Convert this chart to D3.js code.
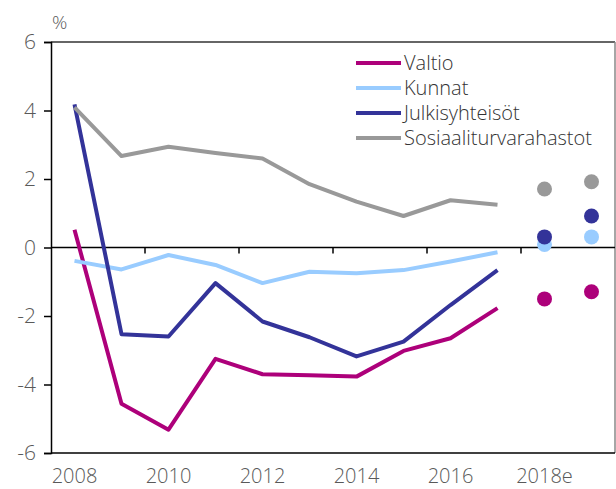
<!DOCTYPE html>
<html>
<head>
<meta charset="utf-8">
<script src="https://cdn.jsdelivr.net/npm/d3@7"></script>
<style>
  body { margin: 0; background: #fff; }
  svg { display: block; font-family: "Open Sans", sans-serif; font-weight: 300; }
</style>
</head>
<body>
<svg id="chart" width="616" height="489"></svg>
<script>
// ---------------------------------------------
//  Data
// ---------------------------------------------

const years = ["2008", "2009", "2010", "2011", "2012", "2013", "2014", "2015", "2016", "2017", "2018e", "2019e"];
const lineYears = years.slice(0, 10);
const estYears = ["2018e", "2019e"];
const tickLabels = ["2008", "2010", "2012", "2014", "2016", "2018e"];
const yTicks = [-6, -4, -2, 0, 2, 4, 6];

const seriesNames = ["Valtio", "Kunnat", "Julkisyhteisöt", "Sosiaaliturvarahastot"];
const valtio = [0.52, -4.56, -5.32, -3.25, -3.70, -3.73, -3.77, -3.02, -2.65, -1.77];
const kunnat = [-0.39, -0.64, -0.22, -0.51, -1.04, -0.71, -0.75, -0.66, -0.41, -0.14];
const julkis = [4.18, -2.53, -2.60, -1.04, -2.16, -2.62, -3.18, -2.75, -1.68, -0.66];
const sosiaali = [4.09, 2.67, 2.94, 2.76, 2.60, 1.85, 1.34, 0.92, 1.38, 1.25];

const valtioEst = [-1.50, -1.29];
const kunnatEst = [0.09, 0.31];
const julkisEst = [0.31, 0.92];
const sosiaaliEst = [1.71, 1.92];

const colors = ["#AD007A", "#99CCFF", "#333399", "#999999"];

// ---------------------------------------------
//  Chart
// ---------------------------------------------

const svg = d3.select("#chart");
const plotLeft = 51, plotRight = 615, plotTop = 42, plotBottom = 453;

const x = d3.scaleBand().domain(years).range([plotLeft, plotRight]);
const y = d3.scaleLinear().domain([-6, 6]).range([plotBottom, plotTop]);

const lines = [valtio, kunnat, julkis, sosiaali];
const ests = [valtioEst, kunnatEst, julkisEst, sosiaaliEst];

// frame
svg.append("line").attr("x1", plotLeft).attr("x2", plotRight).attr("y1", plotTop).attr("y2", plotTop)
  .attr("stroke", "#333").attr("stroke-width", 1.5);
svg.append("line").attr("x1", plotRight).attr("x2", plotRight).attr("y1", plotTop).attr("y2", plotBottom)
  .attr("stroke", "#888").attr("stroke-width", 1.5);
svg.append("line").attr("x1", plotLeft).attr("x2", plotRight).attr("y1", plotBottom).attr("y2", plotBottom)
  .attr("stroke", "#000").attr("stroke-width", 1.5);

// y axis
const yAxis = svg.append("g")
  .attr("transform", `translate(${plotLeft},0)`)
  .call(d3.axisLeft(y).tickValues(yTicks).tickSize(7).tickPadding(8).tickFormat(d => String(d)));
yAxis.select(".domain").attr("stroke", "#000").attr("stroke-width", 1.5);
yAxis.selectAll(".tick line").attr("stroke", "#000").attr("stroke-width", 1.5);
yAxis.selectAll(".tick text")
  .attr("fill", "#595959").style("font-size", "21px").style("font-family", "Open Sans").style("font-weight", 300);
svg.append("text").attr("x", 52).attr("y", 29).text("%")
  .attr("fill", "#595959").style("font-size", "19px");

// x axis at zero
const xAxisG = svg.append("g").attr("transform", `translate(0,${y(0)})`);
xAxisG.append("line").attr("x1", plotLeft).attr("x2", plotRight).attr("y1", 0).attr("y2", 0)
  .attr("stroke", "#000").attr("stroke-width", 1.5);
xAxisG.selectAll(".xtick")
  .data(years.filter((d, i) => i > 0 && i % 2 === 0))
  .enter().append("line")
  .attr("x1", d => x(d)).attr("x2", d => x(d))
  .attr("y1", 0).attr("y2", 6)
  .attr("stroke", "#000").attr("stroke-width", 1.5);

// x labels at bottom
svg.selectAll(".xlabel")
  .data(tickLabels)
  .enter().append("text")
  .attr("x", d => x(d) + x.bandwidth() / 2)
  .attr("y", 483)
  .attr("text-anchor", "middle")
  .attr("fill", "#595959")
  .style("font-size", "20px")
  .text(d => d);

// lines
const line = d3.line()
  .x((d, i) => x(lineYears[i]) + x.bandwidth() / 2)
  .y(d => y(d));

lines.forEach((vals, k) => {
  svg.append("path")
    .datum(vals)
    .attr("d", line)
    .attr("fill", "none")
    .attr("stroke", colors[k])
    .attr("stroke-width", 4)
    .attr("stroke-linejoin", "round");
});

// estimate dots
ests.forEach((vals, k) => {
  svg.selectAll(".dot" + k)
    .data(vals)
    .enter().append("circle")
    .attr("cx", (d, i) => x(estYears[i]) + x.bandwidth() / 2)
    .attr("cy", d => y(d))
    .attr("r", 7.5)
    .attr("fill", colors[k]);
});

// legend
const legend = svg.append("g");
seriesNames.forEach((name, k) => {
  const ly = 63 + k * 25;
  legend.append("line").attr("x1", 356).attr("x2", 401).attr("y1", ly).attr("y2", ly)
    .attr("stroke", colors[k]).attr("stroke-width", 4);
  legend.append("text").attr("x", 404).attr("y", ly + 7)
    .attr("fill", "#333")
    .style("font-size", "20px")
    .text(name);
});
</script>
</body>
</html>
